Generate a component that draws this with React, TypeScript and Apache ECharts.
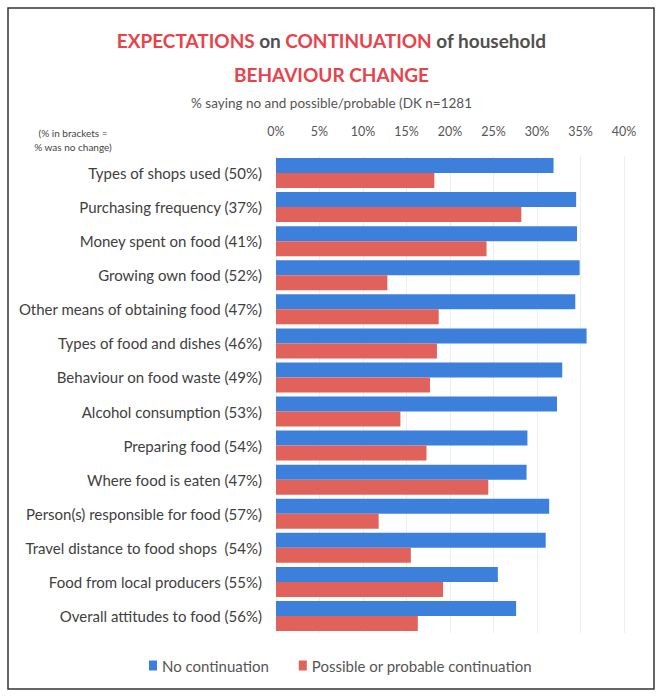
import React, { useEffect, useRef } from "react";
import * as echarts from "echarts";

const categories = [
  "Types of shops used (50%)",
  "Purchasing frequency (37%)",
  "Money spent on food (41%)",
  "Growing own food (52%)",
  "Other means of obtaining food (47%)",
  "Types of food and dishes (46%)",
  "Behaviour on food waste (49%)",
  "Alcohol consumption (53%)",
  "Preparing food (54%)",
  "Where food is eaten (47%)",
  "Person(s) responsible for food (57%)",
  "Travel distance to food shops  (54%)",
  "Food from local producers (55%)",
  "Overall attitudes to food (56%)",
];

const noContinuation = [31.9, 34.5, 34.6, 34.9, 34.4, 35.7, 32.9, 32.3, 28.9, 28.8, 31.4, 31.0, 25.5, 27.6];
const possibleContinuation = [18.2, 28.2, 24.2, 12.8, 18.7, 18.5, 17.7, 14.3, 17.3, 24.4, 11.8, 15.5, 19.2, 16.3];

const xTicks = { min: 0, max: 40, interval: 5 };

const FONT = "Lato";
const BLUE = "#3d80dc";
const RED = "#e0625a";
const TITLE_RED = "#e8434a";
const GREY = "#555555";

export default function App() {
  const ref = useRef<HTMLDivElement>(null);
  useEffect(() => {
    if (!ref.current) return;
    const chart = echarts.init(ref.current, null, { renderer: "svg" });
    chart.setOption({
      animation: false,
      backgroundColor: "#ffffff",
      textStyle: { fontFamily: FONT },
      title: [
        {
          text: "{r|EXPECTATIONS} {g|on} {r|CONTINUATION} {g|of household}",
          left: "center",
          top: 26,
          textStyle: {
            rich: {
              r: { color: TITLE_RED, fontSize: 19, fontWeight: "bold", fontFamily: FONT },
              g: { color: "#505050", fontSize: 19, fontFamily: FONT },
            },
          },
        },
        {
          text: "BEHAVIOUR CHANGE",
          left: "center",
          top: 60,
          textStyle: { color: TITLE_RED, fontSize: 19, fontWeight: "bold", fontFamily: FONT },
        },
        {
          text: "% saying no and possible/probable (DK n=1281",
          left: "center",
          top: 91,
          textStyle: { color: GREY, fontSize: 13.5, fontWeight: "normal", fontFamily: FONT },
        },
        {
          text: "(% in brackets =\n% was no change)",
          left: 68,
          top: 121,
          textAlign: "center",
          textStyle: { color: "#444", fontSize: 10, fontWeight: "normal", fontFamily: FONT, lineHeight: 14 },
        },
      ],
      legend: {
        bottom: 18,
        left: 144,
        itemWidth: 8,
        itemHeight: 10,
        itemGap: 30,
        icon: "rect",
        textStyle: { color: GREY, fontSize: 15, fontFamily: FONT },
        data: ["No continuation", "Possible or probable continuation"],
      },
      grid: { left: 276, right: 39, top: 156, bottom: 63, containLabel: false },
      xAxis: {
        type: "value",
        position: "top",
        min: xTicks.min,
        max: xTicks.max,
        interval: xTicks.interval,
        axisLine: { show: false },
        axisTick: { show: false },
        axisLabel: { formatter: "{value}%", color: GREY, fontSize: 12.5, fontFamily: FONT, margin: 18 },
        splitLine: { show: true, lineStyle: { color: "#eeeeee" } },
      },
      yAxis: {
        type: "category",
        inverse: true,
        data: categories,
        axisLine: { show: false },
        axisTick: { show: false },
        axisLabel: { color: "#404040", fontSize: 15, fontFamily: FONT, margin: 14 },
      },
      series: [
        {
          name: "No continuation",
          type: "bar",
          data: noContinuation,
          barWidth: 15,
          barGap: "0%",
          itemStyle: { color: BLUE },
        },
        {
          name: "Possible or probable continuation",
          type: "bar",
          data: possibleContinuation,
          barWidth: 15,
          barGap: "0%",
          itemStyle: { color: RED },
        },
      ],
      graphic: [
        {
          type: "rect",
          shape: { x: 8, y: 8, width: 646, height: 681 },
          style: { fill: "none", stroke: "#333", lineWidth: 1.5 },
          silent: true,
        },
      ],
    });
    return () => chart.dispose();
  }, []);
  return (
    <div
      ref={ref}
      style={{ position: "fixed", left: 0, top: 0, width: 663, height: 696 }}
    />
  );
}
